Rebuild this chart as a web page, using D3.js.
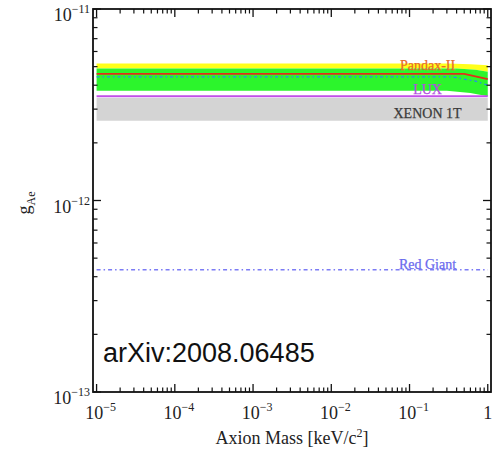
<!DOCTYPE html>
<html>
<head>
<meta charset="utf-8">
<script src="https://cdn.jsdelivr.net/npm/d3@7"></script>
<style>
  html, body { margin: 0; padding: 0; background: #fff; }
  svg { display: block; }
</style>
</head>
<body>
<svg id="chart" width="499" height="451"></svg>
<script>
// Axion-electron coupling limits vs axion mass
const xDomain = [9e-6, 1.1];
const yDomain = [1e-13, 1e-11];
const xMajorExponents = [-5, -4, -3, -2, -1, 0];
const yMajorExponents = [-13, -12, -11];

// Expected sensitivity band edges [mass keV/c^2, g_Ae]
const yellowTop   = [[1e-5, 5.2e-12], [0.3, 5.2e-12], [0.6, 5.15e-12], [1, 5.08e-12]];
const greenTop    = [[1e-5, 4.89e-12], [0.4, 4.89e-12], [0.7, 4.82e-12], [1, 4.7e-12]];
const greenBottom = [[1e-5, 3.74e-12], [0.3, 3.74e-12], [0.6, 3.64e-12], [1, 3.5e-12]];

// XENON 1T region
const xenonUpper = [[1e-5, 3.43e-12], [1, 3.43e-12]];
const xenonLower = [[1e-5, 2.61e-12], [1, 2.61e-12]];

// Limit curves
const pandaxLimit   = [[1e-5, 4.58e-12], [0.5, 4.58e-12], [1, 4.3e-12]];
const medianLimit   = [[1e-5, 4.42e-12], [0.35, 4.42e-12], [0.7, 4.2e-12], [1, 4.0e-12]];
const luxLimit      = [[1e-5, 3.5e-12], [1, 3.5e-12]];
const redGiantLimit = [[1e-5, 4.35e-13], [1, 4.35e-13]];

const curveLabels = [
  { text: "Pandax-II", mass: 0.1, g: 4.8e-12, color: "#e86a2c" },
  { text: "LUX",       mass: 0.1, g: 3.6e-12, color: "#b24fe0" },
  { text: "XENON 1T",  mass: 0.1, g: 2.7e-12, color: "#3a3a3a" },
  { text: "Red Giant", mass: 0.1, g: 4.4e-13, color: "#6a6aee" }
];

const serif = "'Liberation Serif', 'Times New Roman', serif";
const svg = d3.select("#chart").style("font-family", serif);
const mLeft = 93, mRight = 491, mTop = 9, mBottom = 392;

const x = d3.scaleLog().domain(xDomain).range([mLeft, mRight]);
const y = d3.scaleLog().domain(yDomain).range([mBottom, mTop]);

const line = d3.line().x(d => x(d[0])).y(d => y(d[1]));
function band(upper, lower) {
  const pts = upper.concat(lower.slice().reverse());
  return "M" + pts.map(d => x(d[0]) + "," + y(d[1])).join("L") + "Z";
}

const plot = svg.append("g");

// bands
plot.append("path").attr("d", band(yellowTop, greenTop)).attr("fill", "#ffff1a");
plot.append("path").attr("d", band(greenTop, greenBottom)).attr("fill", "#2cf52c");
plot.append("path").attr("d", band(xenonUpper, xenonLower)).attr("fill", "#d4d4d4");

// lines
plot.append("path").datum(luxLimit).attr("d", line)
  .attr("fill", "none").attr("stroke", "#c24fe8").attr("stroke-width", 2);
plot.append("path").datum(pandaxLimit).attr("d", line)
  .attr("fill", "none").attr("stroke", "#e0301a").attr("stroke-width", 1.8);
plot.append("path").datum(medianLimit).attr("d", line)
  .attr("fill", "none").attr("stroke", "#2a8af0").attr("stroke-width", 1.3)
  .attr("stroke-dasharray", "3,3,1.5,3");
plot.append("path").datum(redGiantLimit).attr("d", line)
  .attr("fill", "none").attr("stroke", "#7b7bf5").attr("stroke-width", 1.3)
  .attr("stroke-dasharray", "4,3,1.5,3");

// curve labels
curveLabels.forEach(l => {
  plot.append("text")
    .attr("x", x(l.mass) + 18).attr("y", y(l.g))
    .attr("text-anchor", "middle")
    .attr("font-size", 14)
    .attr("fill", l.color)
    .attr("stroke", l.color).attr("stroke-width", 0.25)
    .text(l.text);
});

// ticks
const axes = svg.append("g").attr("stroke", "#111");
function minorTicks(exps, domain) {
  const out = [];
  for (let e = exps[0] - 1; e <= exps[exps.length - 1]; e++) {
    for (let k = 2; k <= 9; k++) {
      const v = k * Math.pow(10, e);
      if (v > domain[0] && v < domain[1]) out.push(v);
    }
  }
  return out;
}
const xMinor = minorTicks(xMajorExponents, xDomain);
const yMinor = minorTicks(yMajorExponents, yDomain);
const majLen = 8, minLen = 4.5;

xMajorExponents.forEach(e => {
  const px = x(Math.pow(10, e));
  axes.append("line").attr("x1", px).attr("x2", px).attr("y1", mBottom).attr("y2", mBottom - majLen).attr("stroke-width", 1.3);
  axes.append("line").attr("x1", px).attr("x2", px).attr("y1", mTop).attr("y2", mTop + majLen).attr("stroke-width", 1.3);
});
xMinor.forEach(v => {
  const px = x(v);
  axes.append("line").attr("x1", px).attr("x2", px).attr("y1", mBottom).attr("y2", mBottom - minLen).attr("stroke-width", 1.2);
  axes.append("line").attr("x1", px).attr("x2", px).attr("y1", mTop).attr("y2", mTop + minLen).attr("stroke-width", 1.2);
});
yMajorExponents.forEach(e => {
  const py = y(Math.pow(10, e));
  axes.append("line").attr("x1", mLeft).attr("x2", mLeft + majLen).attr("y1", py).attr("y2", py).attr("stroke-width", 1.3);
  axes.append("line").attr("x1", mRight).attr("x2", mRight - majLen).attr("y1", py).attr("y2", py).attr("stroke-width", 1.3);
});
yMinor.forEach(v => {
  const py = y(v);
  axes.append("line").attr("x1", mLeft).attr("x2", mLeft + minLen).attr("y1", py).attr("y2", py).attr("stroke-width", 1.2);
  axes.append("line").attr("x1", mRight).attr("x2", mRight - minLen).attr("y1", py).attr("y2", py).attr("stroke-width", 1.2);
});

// frame
svg.append("rect").attr("x", mLeft).attr("y", mTop)
  .attr("width", mRight - mLeft).attr("height", mBottom - mTop)
  .attr("fill", "none").attr("stroke", "#111").attr("stroke-width", 1.8);

// tick labels
function powLabel(sel, e) {
  if (e === 0) { sel.append("tspan").text("1"); return; }
  sel.append("tspan").text("10");
  sel.append("tspan").attr("dy", -8).attr("font-size", 12).text("\u2212" + Math.abs(e));
}
xMajorExponents.forEach(e => {
  const t = svg.append("text")
    .attr("x", x(Math.pow(10, e)) + (e === 0 ? 0 : 4))
    .attr("y", 419)
    .attr("text-anchor", "middle")
    .attr("font-size", 18)
    .attr("fill", "#222");
  powLabel(t, e);
});
yMajorExponents.forEach(e => {
  const t = svg.append("text")
    .attr("x", mLeft - 3)
    .attr("y", y(Math.pow(10, e)) + 12)
    .attr("text-anchor", "end")
    .attr("font-size", 18)
    .attr("fill", "#222");
  powLabel(t, e);
});

// axis titles
const xt = svg.append("text").attr("x", 292).attr("y", 444)
  .attr("text-anchor", "middle").attr("font-size", 18).attr("fill", "#222");
xt.append("tspan").text("Axion Mass [keV/c");
xt.append("tspan").attr("dy", -7).attr("font-size", 12).text("2");
xt.append("tspan").attr("dy", 7).text("]");

const yt = svg.append("text")
  .attr("transform", "translate(30,203) rotate(-90)")
  .attr("text-anchor", "middle").attr("font-size", 18).attr("fill", "#222");
yt.append("tspan").text("g");
yt.append("tspan").attr("dy", 5).attr("font-size", 12).text("Ae");

// reference tag
svg.append("text").attr("x", 103).attr("y", 362)
  .style("font-family", "'Liberation Sans', Arial, sans-serif")
  .attr("font-size", 27).attr("fill", "#111")
  .text("arXiv:2008.06485");
</script>
</body>
</html>
